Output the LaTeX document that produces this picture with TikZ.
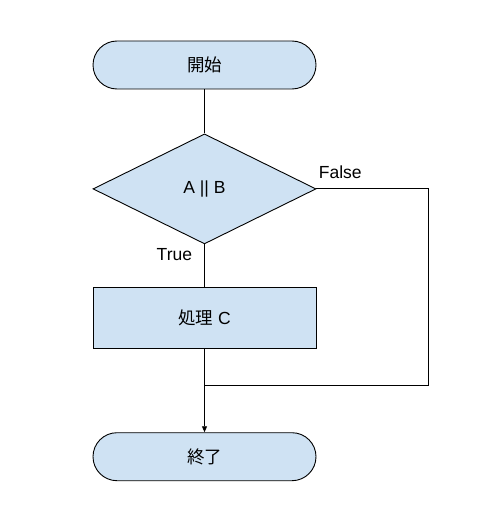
\documentclass[tikz,border=0pt]{standalone}
\usepackage{fontspec}
\setmainfont{Liberation Sans}
\newfontfamily\jp{Noto Sans CJK JP}
\usepackage{tikz}
\usetikzlibrary{positioning,arrows.meta,shapes.geometric}
\definecolor{boxblue}{HTML}{CFE2F3}
\tikzset{
  terminal/.style={rectangle, rounded corners=24pt, draw, fill=boxblue, line width=0.9pt,
                   minimum width=223pt, minimum height=48pt, font=\fontsize{17.5}{20}\selectfont},
  decision/.style={diamond, draw, fill=boxblue, line width=0.9pt, inner sep=0pt,
                   minimum width=223pt, minimum height=110pt, font=\fontsize{17.5}{20}\selectfont},
  process/.style={rectangle, draw, fill=boxblue, line width=0.9pt,
                  minimum width=223pt, minimum height=61pt, font=\fontsize{17.5}{20}\selectfont},
  flow/.style={line width=0.9pt},
  arr/.style={flow, -{Triangle[length=6pt,width=5pt]}},
  lbl/.style={inner sep=0pt, font=\fontsize{17.5}{20}\selectfont},
}
\begin{document}
\begin{tikzpicture}
  \useasboundingbox (0pt,0pt) rectangle (496pt,-524pt);
  \node[terminal] (start) at (204.5pt,-65pt) {\jp 開始};
  \node[decision] (cond) [below=44pt of start] {A || B};
  \node[process] (proc) [below=43pt of cond] {{\jp 処理} C};
  \node[terminal] (stop) [below=83pt of proc] {\jp 終了};
  \path (proc.south) ++(0,-36pt) coordinate (merge);

  \draw[flow] (start) -- (cond);
  \draw[flow] (cond) -- (proc) node[lbl, pos=0, anchor=north east, xshift=-12pt, yshift=-4pt] {True};
  \draw[arr] (proc) -- (stop);
  \draw[flow] (cond.east) node[lbl, anchor=south west, xshift=2pt, yshift=9.5pt] {False}
    -- ++(112pt,0) |- (merge);

\end{tikzpicture}
\end{document}
